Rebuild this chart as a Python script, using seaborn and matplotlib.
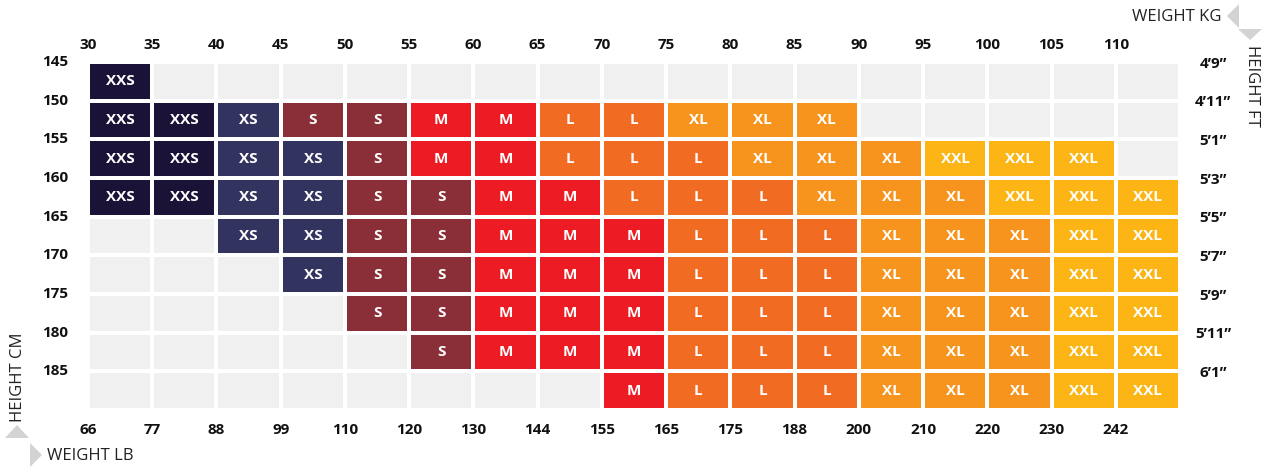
import numpy as np
import matplotlib
matplotlib.use('Agg')
import matplotlib.pyplot as plt
import seaborn as sns
from matplotlib.colors import ListedColormap
from matplotlib.patches import Polygon

# Tabela de tamanhos: peso (colunas) x altura (linhas)
peso_kg = ['30', '35', '40', '45', '50', '55', '60', '65', '70', '75', '80',
           '85', '90', '95', '100', '105', '110']
peso_lb = ['66', '77', '88', '99', '110', '120', '130', '144', '155', '165',
           '175', '188', '200', '210', '220', '230', '242']
altura_cm = ['145', '150', '155', '160', '165', '170', '175', '180', '185']
altura_ft = ['4’9”', '4’11”', '5’1”', '5’3”', '5’5”', '5’7”', '5’9”', '5’11”', '6’1”']

tamanhos = ['', 'XXS', 'XS', 'S', 'M', 'L', 'XL', 'XXL']
cores = ['#f0f0f0', '#1b1238', '#333360', '#8a2f38', '#ed1c24', '#f26b23', '#f7941d', '#fdb515']

linha_145 = ['XXS'] + [''] * 16
linha_150 = ['XXS', 'XXS', 'XS', 'S', 'S', 'M', 'M', 'L', 'L', 'XL', 'XL', 'XL'] + [''] * 5
linha_155 = ['XXS', 'XXS', 'XS', 'XS', 'S', 'M', 'M', 'L', 'L', 'L', 'XL', 'XL', 'XL', 'XXL', 'XXL', 'XXL', '']
linha_160 = ['XXS', 'XXS', 'XS', 'XS', 'S', 'S', 'M', 'M', 'L', 'L', 'L', 'XL', 'XL', 'XL', 'XXL', 'XXL', 'XXL']
linha_165 = ['', '', 'XS', 'XS', 'S', 'S', 'M', 'M', 'M', 'L', 'L', 'L', 'XL', 'XL', 'XL', 'XXL', 'XXL']
linha_170 = ['', '', '', 'XS', 'S', 'S', 'M', 'M', 'M', 'L', 'L', 'L', 'XL', 'XL', 'XL', 'XXL', 'XXL']
linha_175 = ['', '', '', '', 'S', 'S', 'M', 'M', 'M', 'L', 'L', 'L', 'XL', 'XL', 'XL', 'XXL', 'XXL']
linha_180 = ['', '', '', '', '', 'S', 'M', 'M', 'M', 'L', 'L', 'L', 'XL', 'XL', 'XL', 'XXL', 'XXL']
linha_185 = [''] * 8 + ['M', 'L', 'L', 'L', 'XL', 'XL', 'XL', 'XXL', 'XXL']

grade = [linha_145, linha_150, linha_155, linha_160, linha_165,
         linha_170, linha_175, linha_180, linha_185]
rotulos = np.array(grade)
codigos = np.array([[tamanhos.index(t) for t in linha] for linha in grade])

W, H = 1266, 470
fig = plt.figure(figsize=(W / 100, H / 100), dpi=100)
plt.rcParams['font.family'] = ['Open Sans', 'DejaVu Sans']


def fx(px):
    return px / W


def fy(py):
    return 1 - py / H


ax = fig.add_axes([fx(88), fy(410), fx(1180) - fx(88), fy(62) - fy(410)])
sns.heatmap(codigos, ax=ax, cmap=ListedColormap(cores), vmin=-0.5, vmax=len(cores) - 0.5,
            annot=rotulos, fmt='', cbar=False, linewidths=1.7, linecolor='white',
            annot_kws={'color': 'white', 'fontsize': 11, 'fontweight': 'bold'})

# eixos: kg em cima, lb embaixo, cm na esquerda, ft na direita
ax.set_xticks(np.arange(len(peso_lb)))
ax.set_xticklabels(peso_lb, rotation=0, fontsize=11, fontweight='bold', color='#111111')
ax.set_yticks(np.arange(len(altura_cm)))
ax.set_yticklabels(altura_cm, rotation=0, fontsize=11, fontweight='bold', color='#111111')
ax.tick_params(axis='x', length=0, pad=9)
ax.tick_params(axis='y', length=0, pad=14)

topo = ax.secondary_xaxis('top')
topo.set_xticks(np.arange(len(peso_kg)))
topo.set_xticklabels(peso_kg, fontsize=11, fontweight='bold', color='#111111')
topo.tick_params(length=0, pad=7)

direita = ax.secondary_yaxis('right')
direita.set_yticks(np.arange(len(altura_ft)))
direita.set_yticklabels(altura_ft, fontsize=11, fontweight='bold', color='#111111', ha='center')
direita.tick_params(length=0, pad=24)

for eixo in [topo, direita]:
    for s in eixo.spines.values():
        s.set_visible(False)

# titulos dos eixos com setas
cinza = '#d3d3d5'
setas = [
    [(1227, 16), (1239, 4), (1239, 28)],
    [(1238, 29), (1262, 29), (1250, 40)],
    [(17, 425), (5, 438), (29, 438)],
    [(42, 455), (30, 443), (30, 467)],
]
for pts in setas:
    fig.patches.append(Polygon([(fx(x), fy(y)) for x, y in pts], closed=True,
                               transform=fig.transFigure, color=cinza, lw=0))

fig.text(fx(1222), fy(17), 'WEIGHT KG', ha='right', va='center', fontsize=12, color='#222222')
fig.text(fx(1252), fy(45), 'HEIGHT FT', ha='center', va='top', rotation=-90, fontsize=12, color='#222222')
fig.text(fx(18), fy(422), 'HEIGHT CM', ha='center', va='bottom', rotation=90, fontsize=12, color='#222222')
fig.text(fx(47), fy(456), 'WEIGHT LB', ha='left', va='center', fontsize=12, color='#222222')

fig.savefig('out.png', dpi=100, facecolor='white')
